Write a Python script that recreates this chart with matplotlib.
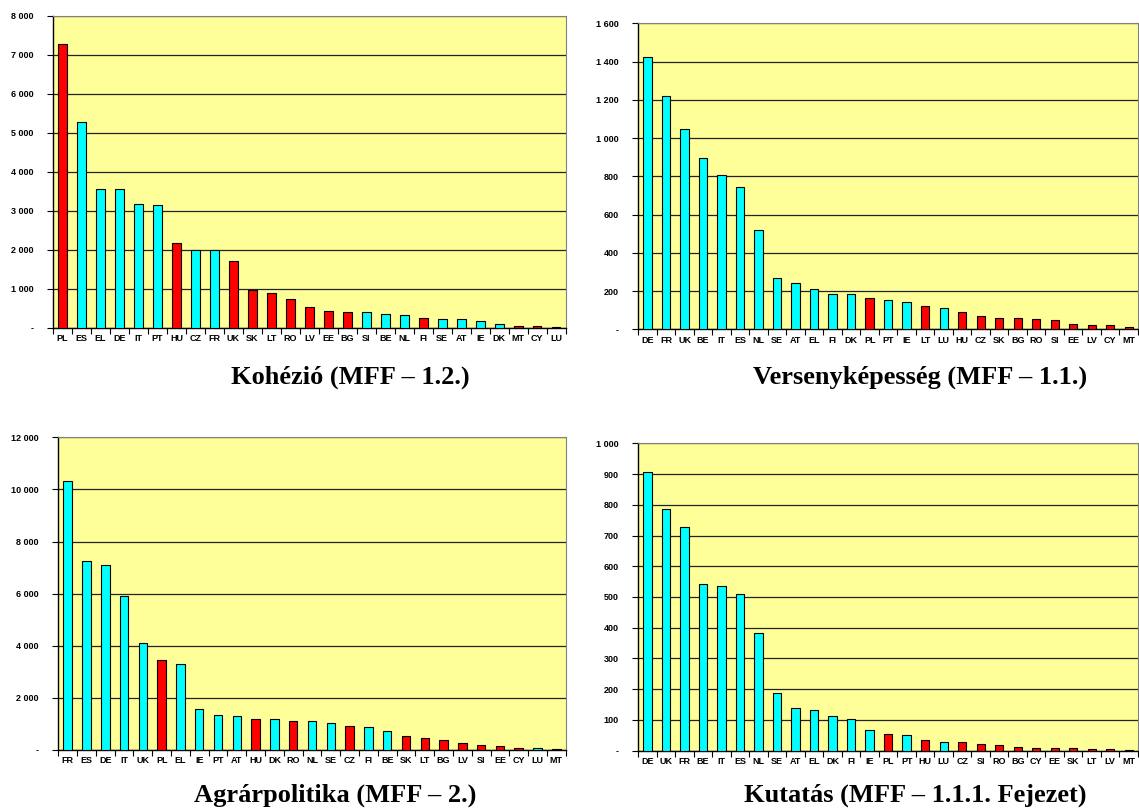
from matplotlib import pyplot as plt
from matplotlib.ticker import FuncFormatter, MultipleLocator
import numpy as np

# Kohézió (MFF - 1.2.)
koh_countries = ["PL", "ES", "EL", "DE", "IT", "PT", "HU", "CZ", "FR", "UK", "SK", "LT", "RO", "LV",
                 "EE", "BG", "SI", "BE", "NL", "FI", "SE", "AT", "IE", "DK", "MT", "CY", "LU"]
koh_values = [7270, 5270, 3570, 3570, 3170, 3150, 2170, 2000, 1990, 1720, 980, 890, 750, 537,
              426, 409, 400, 350, 341, 256, 239, 239, 170, 102, 60, 60, 26]
koh_colors = "rcccccrccrrrrrrrcccrccccrrc"

# Versenyképesség (MFF - 1.1.)
ver_countries = ["DE", "FR", "UK", "BE", "IT", "ES", "NL", "SE", "AT", "EL", "FI", "DK", "PL", "PT",
                 "IE", "LT", "LU", "HU", "CZ", "SK", "BG", "RO", "SI", "EE", "LV", "CY", "MT"]
ver_values = [1422, 1222, 1046, 896, 809, 744, 518, 268, 242, 209, 183, 183, 166, 153,
              143, 120, 110, 92, 71, 61, 58, 52, 47, 26, 24, 21, 10]
ver_colors = "ccccccccccccrccrcrrrrrrrrrr"

# Agrárpolitika (MFF - 2.)
agr_countries = ["FR", "ES", "DE", "IT", "UK", "PL", "EL", "IE", "PT", "AT", "HU", "DK", "RO", "NL",
                 "SE", "CZ", "FI", "BE", "SK", "LT", "BG", "LV", "SI", "EE", "CY", "LU", "MT"]
agr_values = [10337, 7254, 7087, 5910, 4094, 3454, 3300, 1561, 1330, 1318, 1202, 1190, 1100, 1100,
              1049, 934, 895, 716, 537, 473, 371, 256, 205, 153, 64, 64, 26]
agr_colors = "cccccrccccrcrccrccrrrrrrrcr"

# Kutatás (MFF - 1.1.1. Fejezet)
kut_countries = ["DE", "UK", "FR", "BE", "IT", "ES", "NL", "SE", "AT", "EL", "DK", "FI", "IE", "PL",
                 "PT", "HU", "LU", "CZ", "SI", "RO", "BG", "CY", "EE", "SK", "LT", "LV", "MT"]
kut_values = [906, 787, 727, 543, 537, 510, 384, 189, 138, 131, 114, 103, 68, 53,
              52, 36, 29, 28, 21, 17, 11, 10, 9, 8, 7, 4, 3]
kut_colors = "ccccccccccccc" + "rcrcrrrrrrrrrr"

titles = ["Kohézió (MFF – 1.2.)", "Versenyképesség (MFF – 1.1.)",
          "Agrárpolitika (MFF – 2.)", "Kutatás (MFF – 1.1.1. Fejezet)"]

W, H = 1139, 808
fig = plt.figure(figsize=(W / 100, H / 100), dpi=100)

palette = {"r": "#FF0000", "c": "#00FFFF"}


def fmt(v, pos):
    if v == 0:
        return "-"
    return f"{int(round(v)):,}".replace(",", " ")


def panel(box, countries, values, colors, ymax, step):
    l, t, r, b = box
    ax = fig.add_axes([l / W, 1 - b / H, (r - l) / W, (b - t) / H])
    ax.set_facecolor("#FFFF99")
    x = np.arange(len(countries))
    ax.bar(x, values, width=0.45, color=[palette[c] for c in colors],
           edgecolor="black", linewidth=0.8, zorder=3)
    ax.set_xlim(-0.5, len(countries) - 0.5)
    ax.set_ylim(0, ymax)
    ax.yaxis.set_major_locator(MultipleLocator(step))
    ax.yaxis.set_major_formatter(FuncFormatter(fmt))
    ax.grid(axis="y", color="#222222", linewidth=0.9, zorder=1)
    ax.set_xticks(x)
    ax.set_xticklabels(countries)
    ax.set_xticks(np.arange(-0.5, len(countries)), minor=True)
    ax.tick_params(axis="x", which="major", length=0, pad=4.5, labelsize=6.5)
    ax.tick_params(axis="x", which="minor", length=4, width=0.8, direction="out")
    ax.tick_params(axis="y", length=4, width=0.8, direction="out", labelsize=6.5, pad=10)
    for lab in ax.get_xticklabels() + ax.get_yticklabels():
        lab.set_fontweight("bold")
        lab.set_family("Liberation Sans")
    ax.spines["top"].set_color("#808080")
    ax.spines["right"].set_color("#808080")
    ax.spines["left"].set_linewidth(1.0)
    ax.spines["bottom"].set_linewidth(1.0)
    return ax


panel((53, 15.7, 565.7, 328), koh_countries, koh_values, koh_colors, 8000, 1000)
panel((638.3, 23.3, 1138, 329.3), ver_countries, ver_values, ver_colors, 1600, 200)
panel((58.3, 437.3, 565.7, 750), agr_countries, agr_values, agr_colors, 12000, 2000)
panel((638.3, 443.3, 1138, 750.7), kut_countries, kut_values, kut_colors, 1000, 100)

title_pos = [(350, 377), (920, 377), (335, 795), (915, 795)]
for (tx, ty), txt in zip(title_pos, titles):
    fig.text(tx / W, 1 - ty / H, txt, ha="center", va="center",
             family="Liberation Serif", fontweight="bold", fontsize=19)

fig.savefig("out.png", dpi=100)
